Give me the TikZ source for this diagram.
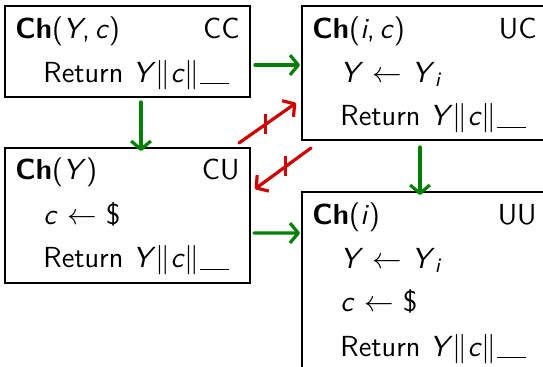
\documentclass[tikz,border=0pt]{standalone}
\usepackage{amsmath}
\usetikzlibrary{arrows.meta, positioning, calc}
\definecolor{verde}{RGB}{0,128,0}
\definecolor{rosso}{RGB}{208,0,0}
\newcommand{\vuoto}{\rule[-1pt]{12pt}{0.5pt}}

\begin{document}
\begin{tikzpicture}[
  font=\fontsize{11.8}{14}\selectfont\sffamily,
  scatola/.style={draw=black, line width=0.5pt, minimum width=3.5cm, anchor=north west,
                  inner sep=0pt, outer sep=0pt},
  riga/.style={anchor=base west, inner sep=0pt},
  sigla/.style={anchor=base east, inner sep=0pt},
  passa/.style={draw=verde, line width=1.3pt, line cap=round,
                -{Straight Barb[length=3.4pt,width=8pt,line join=round]}},
  blocca/.style={draw=rosso, line width=1.3pt, line cap=round,
                 -{Straight Barb[length=3.4pt,width=8pt,line join=round]}},
  taglio/.style={draw=rosso, line width=1.3pt}
]

\useasboundingbox (0,0) rectangle (7.757,-5.229);
\clip (0,0) rectangle (7.757,-5.229);

% the four boxes
\node[scatola, minimum height=1.3cm]   (cc) at (0.071,-0.086) {};
\node[scatola, minimum height=1.914cm] (uc) at (4.314,-0.086) {};
\node[scatola, minimum height=1.929cm] (cu) at (0.071,-2.114) {};
\node[scatola, minimum height=2.6cm]   (uu) at (4.314,-2.743) {};

% CC
\node[riga]  (cc-t) at ([shift={(0.143,-0.457)}]cc.north west)  {\textbf{Ch}(\textit{Y},\,\textit{c})};
\node[sigla] (cc-s) at ([shift={(-0.143,-0.457)}]cc.north east) {CC};
\node[riga]  (cc-1) at ([shift={(0.543,-1.086)}]cc.north west)  {Return \textit{Y}$\|$\textit{c}$\|$\vuoto};

% UC
\node[riga]  (uc-t) at ([shift={(0.143,-0.457)}]uc.north west)  {\textbf{Ch}(\textit{i},\,\textit{c})};
\node[sigla] (uc-s) at ([shift={(-0.143,-0.457)}]uc.north east) {UC};
\node[riga]  (uc-1) at ([shift={(0.543,-1.086)}]uc.north west)  {\textit{Y} $\leftarrow$ \textit{Y}$_{\textit{i}}$};
\node[riga]  (uc-2) at ([shift={(0.543,-1.714)}]uc.north west)  {Return \textit{Y}$\|$\textit{c}$\|$\vuoto};

% CU
\node[riga]  (cu-t) at ([shift={(0.143,-0.457)}]cu.north west)  {\textbf{Ch}(\textit{Y})};
\node[sigla] (cu-s) at ([shift={(-0.143,-0.457)}]cu.north east) {CU};
\node[riga]  (cu-1) at ([shift={(0.543,-1.086)}]cu.north west)  {\textit{c} $\leftarrow$ \$};
\node[riga]  (cu-2) at ([shift={(0.543,-1.714)}]cu.north west)  {Return \textit{Y}$\|$\textit{c}$\|$\vuoto};

% UU
\node[riga]  (uu-t) at ([shift={(0.143,-0.457)}]uu.north west)  {\textbf{Ch}(\textit{i})};
\node[sigla] (uu-s) at ([shift={(-0.143,-0.457)}]uu.north east) {UU};
\node[riga]  (uu-1) at ([shift={(0.543,-1.086)}]uu.north west)  {\textit{Y} $\leftarrow$ \textit{Y}$_{\textit{i}}$};
\node[riga]  (uu-2) at ([shift={(0.543,-1.714)}]uu.north west)  {\textit{c} $\leftarrow$ \$};
\node[riga]  (uu-3) at ([shift={(0.543,-2.343)}]uu.north west)  {Return \textit{Y}$\|$\textit{c}$\|$\vuoto};

% green arrows
\draw[passa] ([shift={(0.071,-0.843)}]cc.north east) -- ([shift={(-0.029,-0.843)}]uc.north west);
\draw[passa] ([shift={(1.943,-0.071)}]cc.south west) -- ([shift={(1.943,-0.043)}]cu.north west);
\draw[passa] ([shift={(1.686,-0.1)}]uc.south west)   -- ([shift={(1.686,-0.043)}]uu.north west);
\draw[passa] ([shift={(0.057,-1.214)}]cu.north east) -- ([shift={(-0.029,-0.586)}]uu.north west);

% red arrows, crossed out
\draw[blocca] ([shift={(-0.157,0.071)}]cu.north east) -- coordinate[pos=0.47] (x1)
              ([shift={(-0.086,-1.386)}]uc.north west);
\draw[taglio] ([yshift=0.143cm]x1) -- ([yshift=-0.143cm]x1);
\draw[blocca] ([shift={(0.129,-0.114)}]uc.south west) -- coordinate[pos=0.45] (x2)
              ([shift={(0.071,-0.586)}]cu.north east);
\draw[taglio] ([yshift=0.143cm]x2) -- ([yshift=-0.143cm]x2);

\end{tikzpicture}
\end{document}
